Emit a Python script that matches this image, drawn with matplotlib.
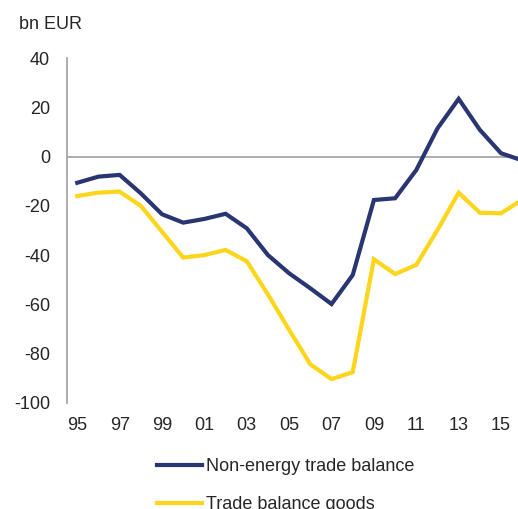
import matplotlib.pyplot as plt

plt.rcParams['font.family'] = ['Liberation Sans', 'DejaVu Sans']
plt.rcParams['axes.unicode_minus'] = False

years = list(range(1995, 2017))
non_energy = [-10.6, -8.1, -7.4, -14.9, -23.4, -26.8, -25.3, -23.2, -29.1, -40.0,
              -47.4, -53.5, -59.9, -48.1, -17.6, -16.9, -5.4, 11.5, 23.5, 10.9,
              1.4, -1.5]
goods = [-16.0, -14.6, -14.2, -20.0, -30.5, -41.0, -40.0, -37.9, -42.5, -56.0,
         -70.4, -84.4, -90.4, -87.6, -41.7, -47.7, -44.0, -29.8, -14.6, -22.8,
         -23.0, -17.5]
tick_years = list(range(1995, 2016, 2))
tick_labels = ['%02d' % (y % 100) for y in tick_years]

navy = '#293671'
yellow = '#FDD51A'
grey = '#A6A6A6'
txt = '#262626'

fig = plt.figure(figsize=(5.18, 5.09), dpi=100)
ax = fig.add_axes([0.1287, 0.2088, 0.8713, 0.6767])

ax.axhline(0, color=grey, lw=1.3, zorder=1)
l1, = ax.plot(years, non_energy, color=navy, lw=3, solid_joinstyle='miter', zorder=3)
l2, = ax.plot(years, goods, color=yellow, lw=3, solid_joinstyle='miter', zorder=2)

ax.set_xlim(1994.5, 2015.8)
ax.set_ylim(-100, 40)
ax.set_yticks(range(-100, 41, 20))
ax.set_xticks(tick_years)
ax.set_xticklabels(tick_labels)

for s in ['top', 'right', 'bottom']:
    ax.spines[s].set_visible(False)
ax.spines['left'].set_color(grey)
ax.spines['left'].set_linewidth(1.3)
ax.tick_params(axis='both', length=0, labelsize=13, colors=txt)
ax.tick_params(axis='y', pad=12)
ax.tick_params(axis='x', pad=10)

fig.text(0.037, 0.952, 'bn EUR', fontsize=13, color=txt, va='center', ha='left')

fig.legend([l1, l2], ['Non-energy trade balance', 'Trade balance goods'],
           loc='upper left', bbox_to_anchor=(0.303, 0.100), bbox_transform=fig.transFigure,
           frameon=False, fontsize=13, handlelength=2.5, handletextpad=0.22,
           labelspacing=1.16, borderaxespad=0, borderpad=0, labelcolor=txt)

fig.savefig('out.png', dpi=100)
